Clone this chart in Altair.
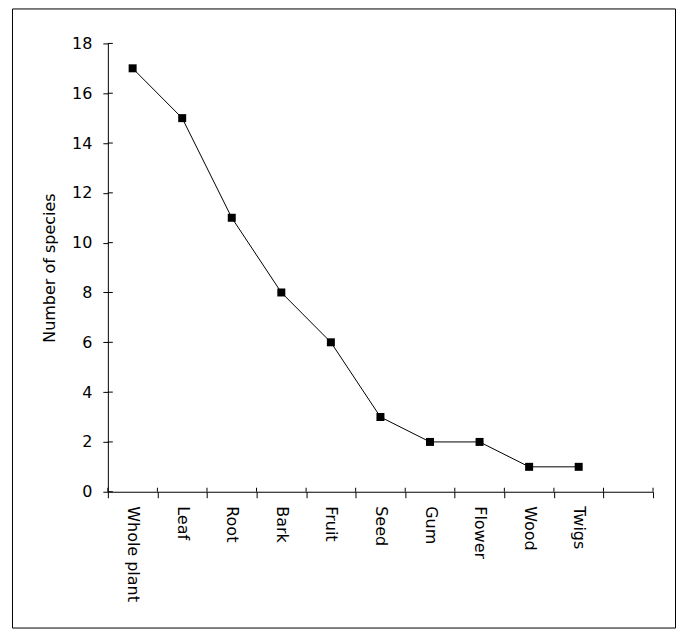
import altair as alt
import pandas as pd

categories = ["Whole plant", "Leaf", "Root", "Bark", "Fruit", "Seed", "Gum", "Flower", "Wood", "Twigs"]
counts = [17, 15, 11, 8, 6, 3, 2, 2, 1, 1]
y_ticks = [0, 2, 4, 6, 8, 10, 12, 14, 16, 18]
domain = categories + [" "]

FONT = "DejaVu Sans"
W, H = 546, 449

df = pd.DataFrame({"part": categories, "n": counts})
xscale = alt.Scale(type="band", domain=domain, paddingInner=0, paddingOuter=0)
yscale = alt.Scale(domain=[0, 18], nice=False, zero=True)

xaxis = alt.Axis(title=None, labelAngle=90, labelAlign="left", labelBaseline="middle",
                 tickBand="extent", tickSize=6, labelPadding=8, labelFont=FONT,
                 labelFontSize=16, labelColor="black", domainColor="black",
                 tickColor="black", grid=False)
yaxis = alt.Axis(title="Number of species", values=y_ticks, tickSize=5, labelPadding=11,
                 labelFont=FONT, labelFontSize=16, labelColor="black", titleFont=FONT,
                 titleFontSize=16, titleFontWeight="normal", titleColor="black",
                 titlePadding=14, domainColor="black", tickColor="black", grid=False)

base = alt.Chart(df)
line = base.mark_line(color="black", strokeWidth=1).encode(
    x=alt.X("part:N", scale=xscale, axis=xaxis),
    y=alt.Y("n:Q", scale=yscale, axis=yaxis),
)
points = base.mark_square(color="black", size=64, opacity=1).encode(
    x=alt.X("part:N", scale=xscale, axis=xaxis),
    y=alt.Y("n:Q", scale=yscale, axis=yaxis),
)

ytick_df = pd.DataFrame({"n": y_ticks})
y_inner = alt.Chart(ytick_df).mark_rule(color="black", strokeWidth=1).encode(
    y=alt.Y("n:Q", scale=yscale, axis=yaxis),
    x=alt.value(0), x2=alt.value(5),
)

xtick_df = pd.DataFrame({"part": domain})
x_inner = alt.Chart(xtick_df).mark_rule(color="black", strokeWidth=1).encode(
    x=alt.X("part:N", scale=xscale, axis=xaxis, bandPosition=0),
    y=alt.value(H - 4), y2=alt.value(H),
)
x_inner_end = alt.Chart(pd.DataFrame({"part": [" "]})).mark_rule(color="black", strokeWidth=1).encode(
    x=alt.X("part:N", scale=xscale, axis=xaxis, bandPosition=1),
    y=alt.value(H - 4), y2=alt.value(H),
)

border = alt.Chart(alt.Data(values=[{}])).mark_rect(
    filled=False, stroke="black", strokeWidth=1, fill=None
).encode(
    x=alt.value(-95.5), x2=alt.value(568.5), y=alt.value(-34.5), y2=alt.value(585.5)
)

chart = alt.layer(border, line, points, y_inner, x_inner, x_inner_end).properties(
    width=W, height=H,
    autosize=alt.AutoSizeParams(type="none"),
    padding={"left": 100, "top": 35, "right": 24, "bottom": 138},
    background="white",
).configure_view(stroke=None)

chart.save("out.html", embed_options={"renderer": "svg", "actions": False})
